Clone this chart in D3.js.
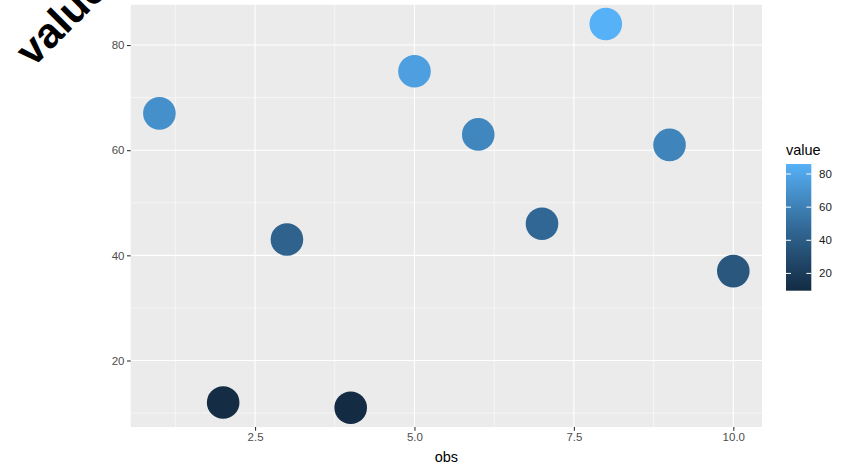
<!DOCTYPE html>
<html><head><meta charset="utf-8">
<script src="https://cdn.jsdelivr.net/npm/d3@7"></script>
<style>body{margin:0;background:#fff}svg{display:block}text{font-family:"Liberation Sans",Arial,Helvetica,sans-serif}</style>
</head><body><div id="chart"></div>
<script>
const obs = [1,2,3,4,5,6,7,8,9,10];
const values = [67,12,43,11,75,63,46,84,61,37];
const xTicks = [2.5,5.0,7.5,10.0];
const xMinor = [1.25,3.75,6.25,8.75];
const yTicks = [20,40,60,80];
const yMinor = [10,30,50,70];
const legendTicks = [20,40,60,80];

const W=843,H=472;
const P={l:130.7,r:762,t:4.8,b:427};
const svg=d3.select("#chart").append("svg").attr("width",W).attr("height",H);

const x=d3.scaleLinear().domain([0.55,10.45]).range([P.l,P.r]);
const y=d3.scaleLinear().domain([7.35,87.65]).range([P.b,P.t]);
const vmin=d3.min(values),vmax=d3.max(values);
const color=d3.scaleLinear().domain([vmin,vmax]).range(["#132B43","#56B1F7"]).interpolate(d3.interpolateLab);

svg.append("rect").attr("x",P.l).attr("y",P.t).attr("width",P.r-P.l).attr("height",P.b-P.t).attr("fill","#EBEBEB");
const g=svg.append("g");
g.selectAll(".xm").data(xMinor).join("line").attr("x1",d=>x(d)).attr("x2",d=>x(d)).attr("y1",P.t).attr("y2",P.b).attr("stroke","#fff").attr("stroke-width",0.55);
g.selectAll(".ym").data(yMinor).join("line").attr("y1",d=>y(d)).attr("y2",d=>y(d)).attr("x1",P.l).attr("x2",P.r).attr("stroke","#fff").attr("stroke-width",0.55);
g.selectAll(".xM").data(xTicks).join("line").attr("x1",d=>x(d)).attr("x2",d=>x(d)).attr("y1",P.t).attr("y2",P.b).attr("stroke","#fff").attr("stroke-width",1.1);
g.selectAll(".yM").data(yTicks).join("line").attr("y1",d=>y(d)).attr("y2",d=>y(d)).attr("x1",P.l).attr("x2",P.r).attr("stroke","#fff").attr("stroke-width",1.1);

// axes
const xa=svg.append("g").attr("transform",`translate(0,${P.b})`).call(d3.axisBottom(x).tickValues(xTicks).tickFormat(d3.format(".1f")).tickSizeInner(3.7).tickSizeOuter(0).tickPadding(2.5));
const ya=svg.append("g").attr("transform",`translate(${P.l},0)`).call(d3.axisLeft(y).tickValues(yTicks).tickFormat(d3.format("d")).tickSizeInner(3.7).tickSizeOuter(0).tickPadding(2.5));
[xa,ya].forEach(a=>{a.select(".domain").remove();a.selectAll(".tick line").attr("stroke","#333").attr("stroke-width",1.1);a.selectAll(".tick text").attr("fill","#4D4D4D").style("font-size","11.5px");});

// points
svg.append("g").selectAll("circle").data(obs.map((o,i)=>({o,v:values[i]}))).join("circle")
 .attr("cx",d=>x(d.o)).attr("cy",d=>y(d.v)).attr("r",16.3).attr("fill",d=>color(d.v));

// titles
svg.append("text").attr("x",(P.l+P.r)/2).attr("y",462).attr("text-anchor","middle").style("font-size","14.5px").attr("fill","#000").text("obs");
svg.append("text").attr("transform","translate(33,68) rotate(-45)").style("font-size","42px").style("font-weight","bold").attr("fill","#000").text("value");

// legend
const lg=svg.append("g");
const lx=786,lw=25.3,ly0=164,ly1=290.7;
const ly=d3.scaleLinear().domain([vmin,vmax]).range([288.3,167.4]);
const defs=svg.append("defs");
const grad=defs.append("linearGradient").attr("id","lgrad").attr("x1",0).attr("y1",1).attr("x2",0).attr("y2",0);
d3.range(0,1.0001,0.05).forEach(t=>grad.append("stop").attr("offset",t).attr("stop-color",color(vmin+t*(vmax-vmin))));
lg.append("rect").attr("x",lx).attr("y",ly0).attr("width",lw).attr("height",ly1-ly0).attr("fill","url(#lgrad)");
lg.selectAll(".tl").data(legendTicks).join("line").attr("x1",lx).attr("x2",lx+5).attr("y1",d=>ly(d)).attr("y2",d=>ly(d)).attr("stroke","#fff").attr("stroke-width",1);
lg.selectAll(".tr").data(legendTicks).join("line").attr("x1",lx+lw-5).attr("x2",lx+lw).attr("y1",d=>ly(d)).attr("y2",d=>ly(d)).attr("stroke","#fff").attr("stroke-width",1);
lg.selectAll("text.lt").data(legendTicks).join("text").attr("class","lt").attr("x",819).attr("y",d=>ly(d)).attr("dy","0.35em").style("font-size","11.5px").attr("fill","#1A1A1A").text(d=>d);
lg.append("text").attr("x",786).attr("y",155).style("font-size","14.5px").attr("fill","#000").text("value");
</script></body></html>
